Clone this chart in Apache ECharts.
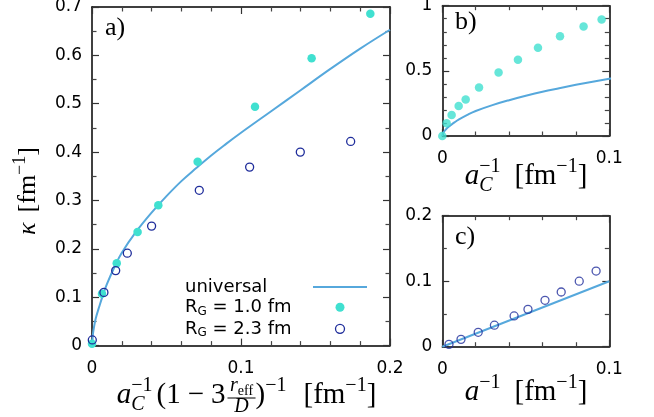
<!DOCTYPE html>
<html><head><meta charset="utf-8">
<script src="https://cdn.jsdelivr.net/npm/echarts@6/dist/echarts.min.js"></script>
<style>html,body{margin:0;padding:0;background:#fff}#c{width:654px;height:417px}</style>
</head><body><div id="c"></div>
<script>
// ---- data ----
// universal curve (panels a and b)
const univX = [0, 0.0005, 0.001, 0.0025, 0.005, 0.0075, 0.01, 0.015, 0.02, 0.03, 0.04, 0.05, 0.06, 0.07, 0.08, 0.09, 0.1, 0.12, 0.14, 0.16, 0.18, 0.2];
const univY = [0, 0.02, 0.032, 0.056, 0.082, 0.106, 0.127, 0.162, 0.192, 0.237, 0.275, 0.309, 0.34, 0.367, 0.393, 0.417, 0.44, 0.484, 0.528, 0.572, 0.614, 0.653];
// panel a, R_G = 1.0 fm
const aG1X = [0, 0.0067, 0.0166, 0.0306, 0.0445, 0.0709, 0.1094, 0.1474, 0.1868];
const aG1Y = [0.004, 0.107, 0.170, 0.235, 0.290, 0.380, 0.494, 0.594, 0.686];
// panel a, R_G = 2.3 fm
const aG2X = [0.0002, 0.008, 0.0159, 0.0237, 0.040, 0.072, 0.1058, 0.1398, 0.1736];
const aG2Y = [0.0117, 0.110, 0.155, 0.191, 0.247, 0.321, 0.369, 0.400, 0.422];
// panel b, R_G = 1.0 fm
const bX = [0, 0.0026, 0.0056, 0.0098, 0.014, 0.022, 0.0337, 0.0453, 0.0573, 0.0705, 0.0846, 0.0954];
const bY = [0.0, 0.097, 0.161, 0.230, 0.281, 0.373, 0.488, 0.586, 0.678, 0.765, 0.841, 0.895];
// panel c, R_G = 2.3 fm and universal line
const cX = [0.004, 0.0112, 0.0215, 0.0312, 0.043, 0.0513, 0.0615, 0.0712, 0.082, 0.0921];
const cY = [0.0036, 0.0112, 0.022, 0.0328, 0.047, 0.057, 0.0708, 0.0835, 0.1, 0.1155];
const cLineX = [0, 0.1];
const cLineY = [0, 0.1];
const seriesNames = ['universal', 'R_G = 1.0 fm', 'R_G = 2.3 fm'];

// ---- helpers ----
const zip = (xs, ys) => xs.map((x, i) => [x, ys[i]]);
const LINE_C = '#56a8dc', GREEN = '#40e0d0', BLUE = '#1f2d9b';
const SERIF = '"Liberation Serif"';
const SANS = '"DejaVu Sans"';
const ctx = document.createElement('canvas').getContext('2d');
function fontStr(p) { return (p.i ? 'italic ' : '') + p.s + 'px ' + SERIF; }
function tw(p) { ctx.font = fontStr(p); return ctx.measureText(p.t).width; }
function sansW(t, s) { ctx.font = s + 'px ' + SANS; return ctx.measureText(t).width; }

function buildRow(pieces) {
  let x = 0; const ch = [];
  function place(p, x0, dy) {
    ch.push({ type: 'text', x: x0, y: (p.dy || 0) + (dy || 0) - 0.34 * p.s,
      style: { text: p.t, font: fontStr(p), fill: '#000', align: 'left', verticalAlign: 'middle' } });
    return tw(p);
  }
  pieces.forEach(p => {
    if (p.sp) { x += p.sp; }
    else if (p.stack) { let w = 0; p.stack.forEach(q => { w = Math.max(w, place(q, x)); }); x += w; }
    else if (p.frac) {
      const f = p.frac;
      const nw = f.num.reduce((a, q) => a + tw(q), 0);
      const dw = f.den.reduce((a, q) => a + tw(q), 0);
      const w = Math.max(nw, dw) + 5;
      let nx = x + (w - nw) / 2; f.num.forEach(q => { nx += place(q, nx, f.nd); });
      let dx = x + (w - dw) / 2; f.den.forEach(q => { dx += place(q, dx, f.dd); });
      ch.push({ type: 'line', shape: { x1: x, y1: f.bar, x2: x + w, y2: f.bar }, style: { stroke: '#000', lineWidth: 1 } });
      x += w;
    } else { x += place(p, x); }
  });
  return { ch, w: x };
}
function titleGroup(pieces, cx, base, rotate) {
  const r = buildRow(pieces);
  if (rotate) {
    r.ch.forEach(e => { if (e.shape) { e.shape.x1 -= r.w / 2; e.shape.x2 -= r.w / 2; } else { e.x -= r.w / 2; } });
    return { type: 'group', x: base, y: cx, rotation: Math.PI / 2, children: r.ch };
  }
  return { type: 'group', x: cx - r.w / 2, y: base, children: r.ch };
}
const M = 29, S = 20;
const supM1 = { t: '−1', s: S, dy: -12 };
const titleA = [
  { t: 'a', s: M, i: 1 }, { stack: [supM1, { t: 'C', s: S, i: 1, dy: 7 }] }, { sp: 4 },
  { t: '(1', s: M }, { sp: 7 }, { t: '−', s: M }, { sp: 7 }, { t: '3', s: M }, { sp: 2 },
  { frac: { num: [{ t: 'r', s: S, i: 1 }, { t: 'eff', s: 14, dy: 3 }], den: [{ t: 'D', s: S, i: 1 }], nd: -12, dd: 9, bar: -7 } },
  { t: ')', s: M }, supM1, { sp: 17 }, { t: '[fm', s: M }, supM1, { t: ']', s: M }
];
const titleB = [
  { t: 'a', s: M, i: 1 }, { stack: [supM1, { t: 'C', s: S, i: 1, dy: 7 }] }, { sp: 14 },
  { t: '[fm', s: M }, supM1, { t: ']', s: M }
];
const titleC = [
  { t: 'a', s: M, i: 1 }, supM1, { sp: 14 }, { t: '[fm', s: M }, supM1, { t: ']', s: M }
];
const titleY = [
  { t: 'κ', s: 26, i: 1 }, { sp: 10 }, { t: '[fm', s: 26 }, { t: '−1', s: 18, dy: -11 }, { t: ']', s: 26 }
];

function xAx(g, max, interval, minor, top) {
  return {
    type: 'value', gridIndex: g, position: top ? 'top' : 'bottom', min: 0, max, interval,
    axisLine: { show: true, onZero: false, lineStyle: { color: '#000', width: 1.5 } },
    axisTick: { show: true, inside: true, length: 7, lineStyle: { color: '#333', width: 1.2 } },
    minorTick: { show: true, splitNumber: minor, length: 4.5, lineStyle: { color: '#444', width: 1.2 } },
    axisLabel: { show: !top, margin: 14, color: '#000', fontFamily: SANS, fontSize: 17 },
    splitLine: { show: false }, minorSplitLine: { show: false }
  };
}
function yAx(g, max, interval, minor, right) {
  return {
    type: 'value', gridIndex: g, position: right ? 'right' : 'left', min: 0, max, interval,
    axisLine: { show: true, onZero: false, lineStyle: { color: '#000', width: 1.5 } },
    axisTick: { show: true, inside: true, length: 7, lineStyle: { color: '#333', width: 1.2 } },
    minorTick: { show: true, splitNumber: minor, length: 4.5, lineStyle: { color: '#444', width: 1.2 } },
    axisLabel: { show: !right, margin: 10, color: '#000', fontFamily: SANS, fontSize: 17 },
    splitLine: { show: false }, minorSplitLine: { show: false }
  };
}

const LEG_FS = 18, LEG_W = 123;
const wR = sansW('R', LEG_FS), wG = sansW('G', 12);

const option = {
  animation: false,
  backgroundColor: '#fff',
  grid: [
    { left: 92, top: 7, width: 298, height: 338.6, outerBoundsMode: 'none' },
    { left: 442.3, top: 5.7, width: 167, height: 130.3, outerBoundsMode: 'none' },
    { left: 442.3, top: 215.7, width: 167, height: 131, outerBoundsMode: 'none' }
  ],
  xAxis: [
    xAx(0, 0.2, 0.1, 5, false), xAx(0, 0.2, 0.1, 5, true),
    xAx(1, 0.1, 0.1, 5, false), xAx(1, 0.1, 0.1, 5, true),
    xAx(2, 0.1, 0.1, 5, false), xAx(2, 0.1, 0.1, 5, true)
  ],
  yAxis: [
    yAx(0, 0.7, 0.1, 2, false), yAx(0, 0.7, 0.1, 2, true),
    yAx(1, 1, 0.5, 5, false), yAx(1, 1, 0.5, 5, true),
    yAx(2, 0.2, 0.1, 2, false), yAx(2, 0.2, 0.1, 2, true)
  ],
  legend: {
    left: 185, top: 278, orient: 'vertical', align: 'right', padding: 0,
    itemWidth: 54, itemHeight: 9, itemGap: 2.3, selectedMode: false,
    data: [
      { name: seriesNames[0], itemStyle: { opacity: 0 } },
      { name: seriesNames[1] },
      { name: seriesNames[2], itemStyle: { borderWidth: 1.3, color: 'rgba(255,255,255,0)' } }
    ],
    formatter: function (name) {
      if (name === 'universal') return '{u|universal}';
      return '{r|R}{g|G}{w|' + name.slice(3) + '}';
    },
    textStyle: {
      color: '#000', fontFamily: SANS, fontSize: LEG_FS,
      rich: {
        u: { width: LEG_W, align: 'left', fontFamily: SANS, fontSize: LEG_FS, lineHeight: 20.5, color: '#000' },
        r: { align: 'left', fontFamily: SANS, fontSize: LEG_FS, lineHeight: 20.5, color: '#000' },
        g: { align: 'left', fontFamily: SANS, fontSize: 12, lineHeight: 12, verticalAlign: 'bottom', color: '#000' },
        w: { width: LEG_W - wR - wG, align: 'left', fontFamily: SANS, fontSize: LEG_FS, lineHeight: 20.5, color: '#000' }
      }
    }
  },
  series: [
    { name: seriesNames[0], type: 'line', xAxisIndex: 0, yAxisIndex: 0, data: zip(univX, univY), symbol: 'none', smooth: 0.4,
      lineStyle: { color: LINE_C, width: 2 }, itemStyle: { color: LINE_C }, z: 2 },
    { name: seriesNames[1], type: 'scatter', xAxisIndex: 0, yAxisIndex: 0, data: zip(aG1X, aG1Y), symbol: 'circle', symbolSize: 8.5,
      itemStyle: { color: GREEN, opacity: 1 }, z: 3 },
    { name: seriesNames[2], type: 'scatter', xAxisIndex: 0, yAxisIndex: 0, data: zip(aG2X, aG2Y), symbol: 'circle', symbolSize: 8,
      itemStyle: { color: 'rgba(255,255,255,0)', borderColor: BLUE, borderWidth: 1.3, opacity: 1 }, z: 4 },
    { name: 'b-universal', type: 'line', xAxisIndex: 2, yAxisIndex: 2, data: zip(univX, univY), symbol: 'none', smooth: 0.4,
      lineStyle: { color: LINE_C, width: 2 }, z: 2 },
    { name: 'b-RG1', type: 'scatter', xAxisIndex: 2, yAxisIndex: 2, data: zip(bX, bY), symbol: 'circle', symbolSize: 8.5,
      itemStyle: { color: GREEN }, z: 3 },
    { name: 'c-universal', type: 'line', xAxisIndex: 4, yAxisIndex: 4, data: zip(cLineX, cLineY), symbol: 'none',
      lineStyle: { color: LINE_C, width: 2 }, z: 2 },
    { name: 'c-RG2', type: 'scatter', xAxisIndex: 4, yAxisIndex: 4, data: zip(cX, cY), symbol: 'circle', symbolSize: 8,
      itemStyle: { color: 'rgba(255,255,255,0)', borderColor: BLUE, borderWidth: 1.3 }, z: 4 }
  ],
  graphic: [
    titleGroup(titleA, 246.5, 405, false),
    titleGroup(titleB, 526, 186, false),
    titleGroup(titleC, 526, 402, false),
    titleGroup(titleY, 191, 37, true),
    { type: 'text', x: 105, y: 37 - 0.34 * 26, style: { text: 'a)', font: '26px ' + SERIF, fill: '#000', align: 'left', verticalAlign: 'middle' } },
    { type: 'text', x: 455, y: 31 - 0.34 * 26, style: { text: 'b)', font: '26px ' + SERIF, fill: '#000', align: 'left', verticalAlign: 'middle' } },
    { type: 'text', x: 455, y: 246 - 0.34 * 26, style: { text: 'c)', font: '26px ' + SERIF, fill: '#000', align: 'left', verticalAlign: 'middle' } }
  ]
};
const chart = echarts.init(document.getElementById('c'), null, { renderer: 'canvas' });
chart.setOption(option);
</script></body></html>
